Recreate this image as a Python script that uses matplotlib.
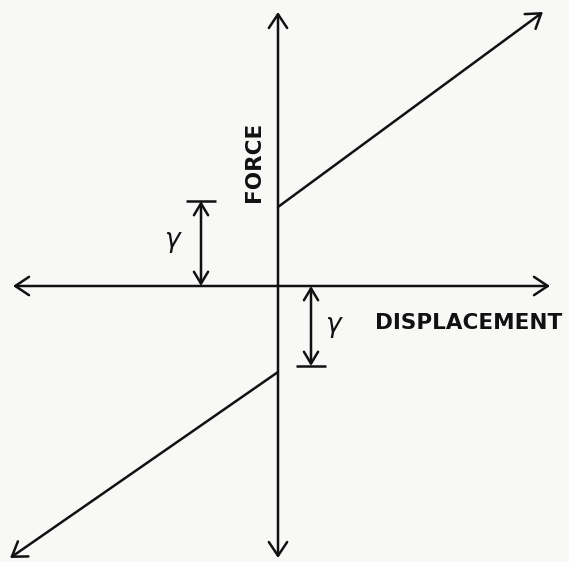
import matplotlib.pyplot as plt

# Schematic of bilinear force-displacement with offset gamma.
# Coordinates in diagram units, origin at axes crossing (1 unit ~ 1 px).
x_axis = [-265, 272]          # horizontal axis ends (arrow both ways)
y_axis = [-272, 274]          # vertical axis ends (arrow both ways)
upper_branch_x = [0, 265]
upper_branch_y = [79, 274]
lower_branch_x = [0, -268]
lower_branch_y = [-86, -272]
gamma_upper = [-77, 0, 85]    # x, from y, to y
gamma_lower = [33, 0, -80]
bar_half = 15

INK = "#111111"
LW = 1.8

fig = plt.figure(figsize=(5.69, 5.62), dpi=100)
fig.patch.set_facecolor("#f8f8f6")
ax = fig.add_axes([0, 0, 1, 1])
ax.set_facecolor("#f8f8f6")
ax.set_xlim(-278, 291)
ax.set_ylim(-276, 286)
ax.axis("off")

big = dict(arrowstyle="<->,head_length=0.45,head_width=0.3", lw=LW, color=INK,
           shrinkA=0, shrinkB=0, mutation_scale=22)
one = dict(arrowstyle="->,head_length=0.45,head_width=0.3", lw=LW, color=INK,
           shrinkA=0, shrinkB=0, mutation_scale=22)
small = dict(arrowstyle="<->,head_length=0.5,head_width=0.3", lw=LW, color=INK,
             shrinkA=0, shrinkB=0, mutation_scale=17)

# axes
ax.annotate("", xy=(x_axis[1], 0), xytext=(x_axis[0], 0), arrowprops=big)
ax.annotate("", xy=(0, y_axis[1]), xytext=(0, y_axis[0]), arrowprops=big)

# branches
ax.annotate("", xy=(upper_branch_x[1], upper_branch_y[1]),
            xytext=(upper_branch_x[0], upper_branch_y[0]), arrowprops=one)
ax.annotate("", xy=(lower_branch_x[1], lower_branch_y[1]),
            xytext=(lower_branch_x[0], lower_branch_y[0]), arrowprops=one)

# gamma dimension markers
for gx, g0, g1 in (gamma_upper, gamma_lower):
    ax.annotate("", xy=(gx, g1), xytext=(gx, g0), arrowprops=small)
    ax.plot([gx - bar_half, gx + bar_half], [g1, g1], color=INK, lw=LW,
            solid_capstyle="butt")

ax.text(gamma_upper[0] - 29, 46, "γ", fontsize=19, style="italic", color=INK,
        ha="center", va="center")
ax.text(gamma_lower[0] + 22, -39, "γ", fontsize=19, style="italic", color=INK,
        ha="center", va="center")

ax.text(-24, 124, "FORCE", rotation=90, fontsize=15.5, fontweight="bold",
        color=INK, ha="center", va="center")
ax.text(97, -37, "DISPLACEMENT", fontsize=15.5, fontweight="bold", color=INK,
        ha="left", va="center")

fig.savefig("out.png", dpi=100, facecolor=fig.get_facecolor())
